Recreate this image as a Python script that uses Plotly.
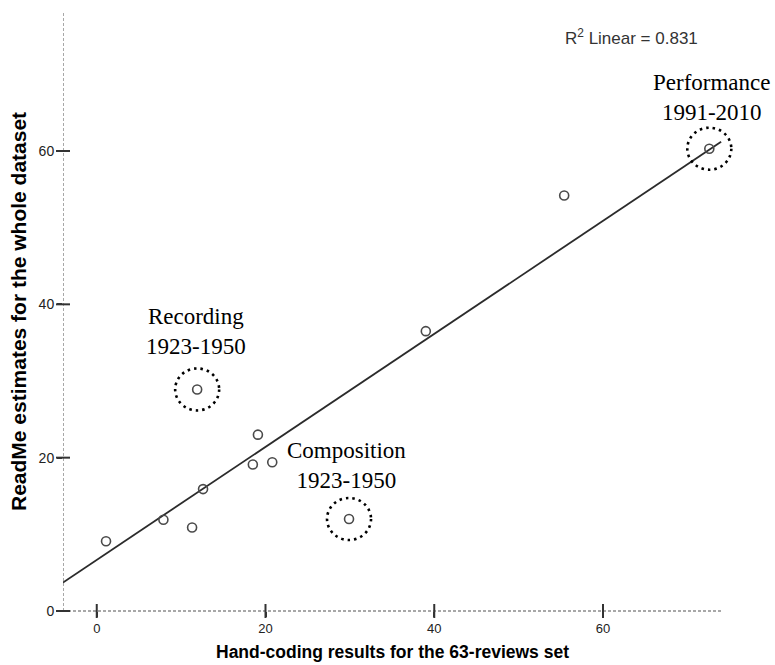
import numpy as np
import plotly.graph_objects as go

# ---- data ----
hand_coding = [1.1, 7.9, 11.3, 12.6, 18.5, 19.1, 20.8, 11.9, 29.9, 39.0, 55.4, 72.6]
readme_est = [9.1, 11.9, 10.9, 15.9, 19.1, 23.0, 19.4, 28.9, 12.0, 36.5, 54.2, 60.3]

highlight_idx = [7, 8, 11]
highlight_text = ["Recording<br>1923-1950", "Composition<br>1923-1950", "Performance<br>1991-2010"]
highlight_shift = [(-1, 58), (-3, 54), (3, 51)]

x_ticks = [0, 20, 40, 60]
y_ticks = [0, 20, 40, 60]
x_axis_extent = [-4, 74]   # visible axis line / fit line extent
x_view = [-4, 76]          # plotting window (room for the dotted ring on the right)
y_range = [0, 78]

x_title = "Hand-coding results for the 63-reviews set"
y_title = "ReadMe estimates for the whole dataset"

# ---- fit ----
xa = np.array(hand_coding)
ya = np.array(readme_est)
slope, intercept = np.polyfit(xa, ya, 1)
r2 = np.corrcoef(xa, ya)[0, 1] ** 2
fit_x = np.array(x_axis_extent, dtype=float)
fit_y = intercept + slope * fit_x

TICK = "#333333"
fig = go.Figure()

# fit line
fig.add_trace(go.Scatter(x=fit_x, y=fit_y, mode="lines",
                         line=dict(color="#2b2b2b", width=1.8),
                         hoverinfo="skip", showlegend=False))
# points
fig.add_trace(go.Scatter(x=hand_coding, y=readme_est, mode="markers",
                         marker=dict(symbol="circle-open", size=9,
                                     line=dict(color="#4a4a4a", width=1.6),
                                     color="#4a4a4a"),
                         showlegend=False))
# crossing tick marks
fig.add_trace(go.Scatter(x=x_ticks, y=[y_range[0]] * len(x_ticks), mode="markers",
                         marker=dict(symbol="line-ns-open", size=10, color=TICK,
                                     line=dict(color=TICK, width=2)),
                         cliponaxis=False, hoverinfo="skip", showlegend=False))
fig.add_trace(go.Scatter(x=[x_axis_extent[0]] * len(y_ticks), y=y_ticks, mode="markers",
                         marker=dict(symbol="line-ew-open", size=10, color=TICK,
                                     line=dict(color=TICK, width=2)),
                         cliponaxis=False, hoverinfo="skip", showlegend=False))

axis_line = dict(color="#a8a8a8", width=2, dash="3px,2px")
shapes = [
    dict(type="line", xref="x", yref="paper", x0=x_axis_extent[0], x1=x_axis_extent[1],
         y0=0, y1=0, line=axis_line, layer="below"),
    dict(type="line", xref="x", yref="paper", x0=x_axis_extent[0], x1=x_axis_extent[0],
         y0=0, y1=1, line=axis_line, layer="below"),
]
annotations = []
for i, txt, (dx, dy) in zip(highlight_idx, highlight_text, highlight_shift):
    px, py = hand_coding[i], readme_est[i]
    shapes.append(dict(type="circle", xref="x", yref="y",
                       xsizemode="pixel", ysizemode="pixel",
                       xanchor=px, yanchor=py, x0=-22, x1=22, y0=-21, y1=21,
                       line=dict(color="black", width=2.6, dash="2.5px,4px")))
    annotations.append(dict(x=px, y=py, xref="x", yref="y", text=txt,
                            showarrow=False, xanchor="center", yanchor="middle",
                            xshift=dx, yshift=dy, align="center",
                            font=dict(family="Liberation Serif", size=23, color="black")))

annotations.append(dict(x=55.3, y=74.9, xref="x", yref="y",
                        text="R<sup>2</sup> Linear = %.3f" % r2, showarrow=False,
                        xanchor="left", yanchor="middle",
                        font=dict(family="Liberation Sans", size=17, color="#333333")))
annotations.append(dict(x=(x_axis_extent[0] + x_axis_extent[1]) / 2, y=0, xref="x", yref="paper",
                        text="<b>%s</b>" % x_title,
                        showarrow=False, xanchor="center", yanchor="middle", yshift=-41,
                        font=dict(family="Liberation Sans", size=17.5, color="black")))
annotations.append(dict(x=0, y=0.5, xref="paper", yref="paper", text="<b>%s</b>" % y_title,
                        showarrow=False, xanchor="center", yanchor="middle", xshift=-45,
                        textangle=-90,
                        font=dict(family="Liberation Sans", size=21, color="black")))

fig.update_layout(
    width=775, height=665,
    margin=dict(l=63, r=37, t=13, b=54),
    paper_bgcolor="white", plot_bgcolor="white",
    showlegend=False,
    shapes=shapes, annotations=annotations,
    xaxis=dict(range=x_view, tickvals=x_ticks, ticks="outside", ticklen=5,
               tickwidth=2, tickcolor=TICK, showgrid=False, zeroline=False,
               showline=False, tickfont=dict(family="Liberation Sans", size=13, color="#222222")),
    yaxis=dict(range=y_range, tickvals=y_ticks, ticks="outside", ticklen=5,
               tickwidth=2, tickcolor=TICK, showgrid=False, zeroline=False,
               showline=False, tickfont=dict(family="Liberation Sans", size=14, color="#222222")),
)

fig.write_html("out.html")
